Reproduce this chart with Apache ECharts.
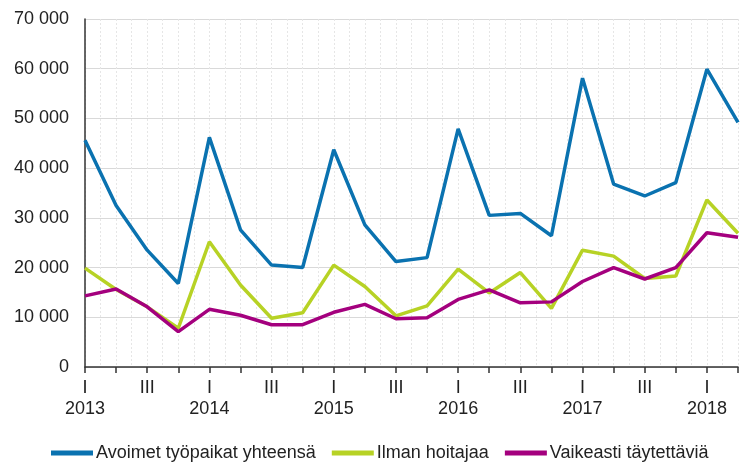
<!DOCTYPE html>
<html>
<head>
<meta charset="utf-8">
<script src="https://cdn.jsdelivr.net/npm/echarts@6/dist/echarts.min.js"></script>
<style>
html,body{margin:0;padding:0;background:#fff;}
#c{width:741px;height:467px;}
</style>
</head>
<body>
<div id="c"></div>
<script>
const years = ['2013','2014','2015','2016','2017','2018'];
const quarterLabels = ['I','','III',''];
const seriesNames = ['Avoimet työpaikat yhteensä','Ilman hoitajaa','Vaikeasti täytettäviä'];
const avoimet = [45600,32500,23500,16800,46200,27600,20500,20000,43700,28600,21200,22000,47900,30500,30900,26400,58100,36800,34400,37100,59900,49200];
const ilman   = [19900,15600,12100,7800,25200,16500,9800,10900,20500,16200,10300,12300,19700,14900,19000,11800,23500,22300,17800,18300,33600,26900];
const vaikeasti = [14300,15700,12100,7100,11600,10400,8500,8500,11000,12600,9700,9900,13600,15500,12900,13100,17200,20000,17700,20000,27000,26100];
const colors = ['#0a72b0','#b7d225','#a4007e'];

const toXY = arr => arr.map((v,i)=>[i,v]);
const fmtNum = v => v === 0 ? '0' : String(v).replace(/\B(?=(\d{3})+(?!\d))/g,' ');

const chart = echarts.init(document.getElementById('c'));
chart.setOption({
  animation:false,
  textStyle:{fontFamily:'Liberation Sans, Arial, sans-serif'},
  grid:{left:85,right:0,top:19,bottom:100,containLabel:false},
  xAxis:{
    type:'value',min:0,max:avoimet.length-1,interval:1,
    axisLine:{show:true,lineStyle:{color:'#333',width:1.5}},
    axisTick:{show:true,length:6,lineStyle:{color:'#333',width:1.5}},
    axisLabel:{
      margin:11,lineHeight:21,fontSize:18,color:'#222',
      formatter:function(v){
        const q = v % 4;
        if(q===0) return quarterLabels[0] + '\n' + years[v/4];
        return quarterLabels[q];
      }
    },
    splitLine:{show:true,lineStyle:{color:'#e6e6e6',type:[2,2],width:1}},
    minorTick:{show:false,splitNumber:2},
    minorSplitLine:{show:true,lineStyle:{color:'#e6e6e6',type:[2,2],width:1}}
  },
  yAxis:{
    type:'value',min:0,max:70000,interval:10000,
    axisLine:{show:true,lineStyle:{color:'#333',width:1.5}},
    axisTick:{show:false},
    axisLabel:{fontSize:18,color:'#222',margin:16,formatter:fmtNum},
    splitLine:{show:true,lineStyle:{color:'#d9d9d9',width:1}}
  },
  legend:{
    top:439,left:46,itemWidth:42,itemHeight:5,itemGap:16,icon:'rect',
    textStyle:{fontSize:18,color:'#222',padding:[0,0,0,-2]},
    data:seriesNames
  },
  series:[
    {name:seriesNames[0],type:'line',data:toXY(avoimet),showSymbol:false,z:5,lineStyle:{width:3.5,color:colors[0]},itemStyle:{color:colors[0]}},
    {name:seriesNames[1],type:'line',data:toXY(ilman),showSymbol:false,z:3,lineStyle:{width:3.5,color:colors[1]},itemStyle:{color:colors[1]}},
    {name:seriesNames[2],type:'line',data:toXY(vaikeasti),showSymbol:false,z:4,lineStyle:{width:3.5,color:colors[2]},itemStyle:{color:colors[2]}}
  ]
});
</script>
</body>
</html>
